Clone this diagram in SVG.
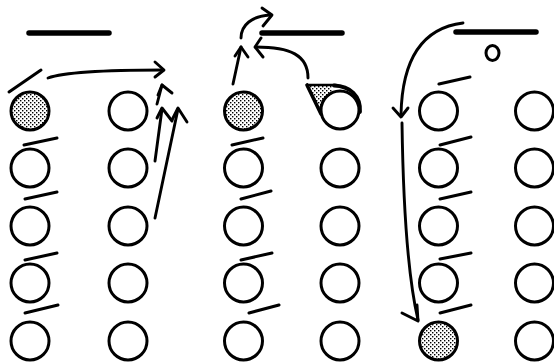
<svg xmlns="http://www.w3.org/2000/svg" width="554" height="362" viewBox="0 0 554 362">
<defs>
<pattern id="dots" width="4" height="4" patternUnits="userSpaceOnUse">
<rect width="4" height="4" fill="#fff"/>
<rect x="0" y="0" width="1.4" height="1.4" fill="#000"/>
<rect x="2" y="2" width="1.4" height="1.4" fill="#000"/>
</pattern>
</defs>
<style>
.p{fill:#fff;stroke:#000;stroke-width:3}
.f{fill:url(#dots);stroke:#000;stroke-width:3}
.h{stroke:#000;stroke-width:3;stroke-linecap:round;fill:none}
.bar{stroke:#000;stroke-width:5.5;stroke-linecap:round}
.c{stroke:#000;stroke-width:2.9;stroke-linecap:round;stroke-linejoin:round;fill:none}
</style>
<rect width="554" height="362" fill="#fff"/>
<g id="lines">
<line class="bar" x1="29" y1="33" x2="109" y2="33"/>
<line class="bar" x1="262" y1="33" x2="342" y2="33"/>
<line class="bar" x1="456" y1="32" x2="536" y2="32"/>
<ellipse id="ball" cx="492.5" cy="53" rx="6.5" ry="7.5" fill="none" stroke="#000" stroke-width="3"/>
</g>
<g id="col1">
<line class="h" x1="9" y1="92" x2="41" y2="70"/>
<circle id="n1_1" class="f" cx="30" cy="111" r="19"/>
<line class="h" x1="24" y1="145" x2="57" y2="138"/>
<circle id="n1_2" class="p" cx="30" cy="168" r="19"/>
<line class="h" x1="25" y1="199" x2="57" y2="192"/>
<circle id="n1_3" class="p" cx="30" cy="226" r="19"/>
<line class="h" x1="25" y1="260" x2="57" y2="253"/>
<circle id="n1_4" class="p" cx="30" cy="283" r="19"/>
<line class="h" x1="25" y1="313" x2="58" y2="305"/>
<circle id="n1_5" class="p" cx="30" cy="341" r="19"/>
</g>
<g id="col2">
<circle id="n2_1" class="p" cx="128" cy="111" r="19"/>
<circle id="n2_2" class="p" cx="128" cy="168" r="19"/>
<circle id="n2_3" class="p" cx="128" cy="226" r="19"/>
<circle id="n2_4" class="p" cx="128" cy="283" r="19"/>
<circle id="n2_5" class="p" cx="128" cy="341" r="19"/>
</g>
<g id="col3">
<circle id="n3_1" class="f" cx="243.5" cy="111" r="19"/>
<line class="h" x1="232" y1="145" x2="263" y2="138"/>
<circle id="n3_2" class="p" cx="243.5" cy="168" r="19"/>
<line class="h" x1="241" y1="199" x2="271" y2="191"/>
<circle id="n3_3" class="p" cx="243.5" cy="226" r="19"/>
<line class="h" x1="241" y1="260" x2="272" y2="253"/>
<circle id="n3_4" class="p" cx="243.5" cy="283" r="19"/>
<line class="h" x1="249" y1="313" x2="279" y2="305"/>
<circle id="n3_5" class="p" cx="243.5" cy="341" r="19"/>
</g>
<g id="col4">
<g id="n4_1">
<path d="M307,85 L332,85.5 L332,93 A19,19 0 0 0 321.3,113.5 Z" fill="url(#dots)"/>
<line x1="307" y1="85" x2="336" y2="85" stroke="#000" stroke-width="2.4" stroke-linecap="round"/>
<line x1="307" y1="85" x2="321" y2="114" stroke="#000" stroke-width="3.6" stroke-linecap="round"/>
<path d="M334,85.5 C350,86 361,96 360,112" fill="none" stroke="#000" stroke-width="3.8" stroke-linecap="round"/>
<circle class="p" cx="340" cy="110" r="19"/>
</g>
<circle id="n4_2" class="p" cx="340" cy="168" r="19"/>
<circle id="n4_3" class="p" cx="340" cy="226" r="19"/>
<circle id="n4_4" class="p" cx="340" cy="283" r="19"/>
<circle id="n4_5" class="p" cx="340" cy="341" r="19"/>
</g>
<g id="col5">
<line class="h" x1="439" y1="84" x2="470" y2="77"/>
<circle id="n5_1" class="p" cx="438.5" cy="111" r="19"/>
<line class="h" x1="440" y1="145" x2="471" y2="137"/>
<circle id="n5_2" class="p" cx="438.5" cy="168" r="19"/>
<line class="h" x1="440" y1="199" x2="471" y2="192"/>
<circle id="n5_3" class="p" cx="438.5" cy="226" r="19"/>
<line class="h" x1="440" y1="259" x2="471" y2="253"/>
<circle id="n5_4" class="p" cx="438.5" cy="283" r="19"/>
<line class="h" x1="440" y1="313" x2="471" y2="305"/>
<circle id="n5_5" class="f" cx="438.5" cy="341" r="19"/>
</g>
<g id="col6">
<circle id="n6_1" class="p" cx="534.5" cy="111" r="19"/>
<circle id="n6_2" class="p" cx="534.5" cy="168" r="19"/>
<circle id="n6_3" class="p" cx="534.5" cy="226" r="19"/>
<circle id="n6_4" class="p" cx="534.5" cy="283" r="19"/>
<circle id="n6_5" class="p" cx="534.5" cy="341" r="19"/>
</g>
<g id="connectors">
<path class="c" d="M48,78 Q70,70 163,70"/>
<polyline class="c" points="155,62 164,70 155,77"/>
<line class="c" x1="157" y1="104" x2="162" y2="85"/>
<polyline class="c" points="158,95 162,85 172,93"/>
<line class="c" x1="155" y1="161" x2="162" y2="109"/>
<polyline class="c" points="157,118 162,108 172,121"/>
<line class="c" x1="155" y1="218" x2="178" y2="109"/>
<polyline class="c" points="172,120 178,108 187,122"/>
<line class="c" x1="233" y1="84" x2="241" y2="47"/>
<polyline class="c" points="235,56 241,47 248,57"/>
<path class="c" d="M241,38 C241,25 252,16 270,15"/>
<polyline class="c" points="262,8 272,15 263,26"/>
<path class="c" d="M308,78 C308,55 290,47 256,47"/>
<polyline class="c" points="261,38 255,47 263,57"/>
<path class="c" d="M463,23 C422,28 402,60 401,115"/>
<polyline class="c" points="393,108 401,117 408,108"/>
<path class="c" d="M402,123 Q404,260 418,320"/>
<polyline class="c" points="402,313 418,321 417,305"/>
</g>
</svg>
